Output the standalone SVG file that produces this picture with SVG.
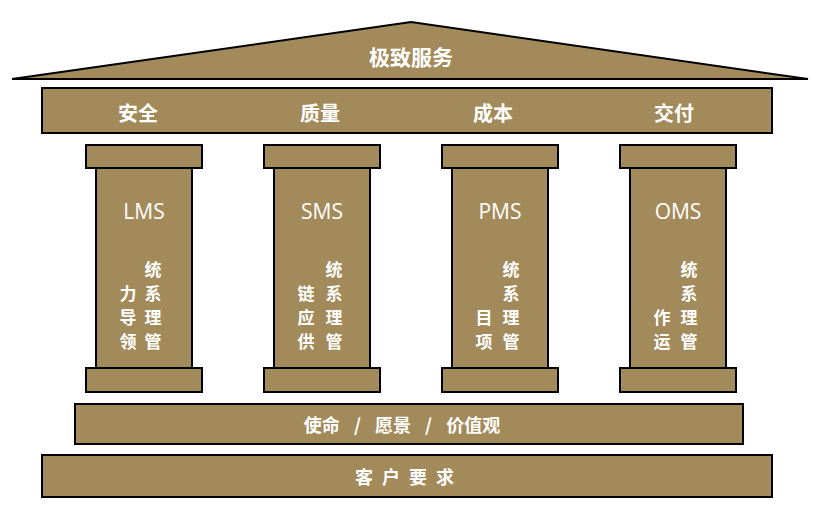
<svg xmlns="http://www.w3.org/2000/svg" width="822" height="517" viewBox="0 0 822 517">
<style>
.s{fill:#a38a5a;stroke:#000;stroke-width:2}
.t{fill:#fff;font-family:"Noto Sans CJK SC","Noto Sans",sans-serif;font-weight:bold;font-size:20px;text-anchor:middle;dominant-baseline:central}
.v{font-size:17px}
.l{font-family:"Open Sans","Noto Sans",sans-serif;font-weight:normal;font-size:21px}
</style>
<rect width="822" height="517" fill="#fff"/>
<g id="roof"><polygon class="s" points="12,79 411,22 808,79"/><text class="t" x="411" y="56" style="font-size:21px">极致服务</text></g>
<g id="beam"><rect class="s" x="42" y="88" width="730" height="45"/>
<text class="t" x="138" y="112">安全</text><text class="t" x="320" y="112">质量</text><text class="t" x="493" y="112">成本</text><text class="t" x="674" y="112">交付</text></g>
<g id="p1"><rect class="s" x="96" y="168" width="96" height="200"/><rect class="s" x="86" y="145" width="116" height="23"/><rect class="s" x="86" y="368" width="116" height="24"/>
<text class="t l" x="144" y="211">LMS</text>
<text class="t v" x="128" y="292">力</text><text class="t v" x="128" y="316">导</text><text class="t v" x="128" y="340">领</text>
<text class="t v" x="153" y="268">统</text><text class="t v" x="153" y="292">系</text><text class="t v" x="153" y="316">理</text><text class="t v" x="153" y="340">管</text></g>
<g id="p2"><rect class="s" x="274" y="168" width="96" height="200"/><rect class="s" x="264" y="145" width="116" height="23"/><rect class="s" x="264" y="368" width="116" height="24"/>
<text class="t l" x="322" y="211">SMS</text>
<text class="t v" x="306" y="292">链</text><text class="t v" x="306" y="316">应</text><text class="t v" x="306" y="340">供</text>
<text class="t v" x="334" y="268">统</text><text class="t v" x="334" y="292">系</text><text class="t v" x="334" y="316">理</text><text class="t v" x="334" y="340">管</text></g>
<g id="p3"><rect class="s" x="452" y="168" width="96" height="200"/><rect class="s" x="442" y="145" width="116" height="23"/><rect class="s" x="442" y="368" width="116" height="24"/>
<text class="t l" x="500" y="211">PMS</text>
<text class="t v" x="484" y="316">目</text><text class="t v" x="484" y="340">项</text>
<text class="t v" x="511" y="268">统</text><text class="t v" x="511" y="292">系</text><text class="t v" x="511" y="316">理</text><text class="t v" x="511" y="340">管</text></g>
<g id="p4"><rect class="s" x="630" y="168" width="96" height="200"/><rect class="s" x="620" y="145" width="116" height="23"/><rect class="s" x="620" y="368" width="116" height="24"/>
<text class="t l" x="678" y="211">OMS</text>
<text class="t v" x="662" y="316">作</text><text class="t v" x="662" y="340">运</text>
<text class="t v" x="689" y="268">统</text><text class="t v" x="689" y="292">系</text><text class="t v" x="689" y="316">理</text><text class="t v" x="689" y="340">管</text></g>
<g id="mission"><rect class="s" x="75" y="404" width="668" height="40"/><text class="t" x="402" y="424" style="font-size:18px;word-spacing:10px">使命 / 愿景 / 价值观</text></g>
<g id="customer"><rect class="s" x="42" y="455" width="730" height="42"/><text class="t" x="409" y="476" style="font-size:18px;letter-spacing:9px">客户要求</text></g>
<g id="connectors"/>
</svg>
